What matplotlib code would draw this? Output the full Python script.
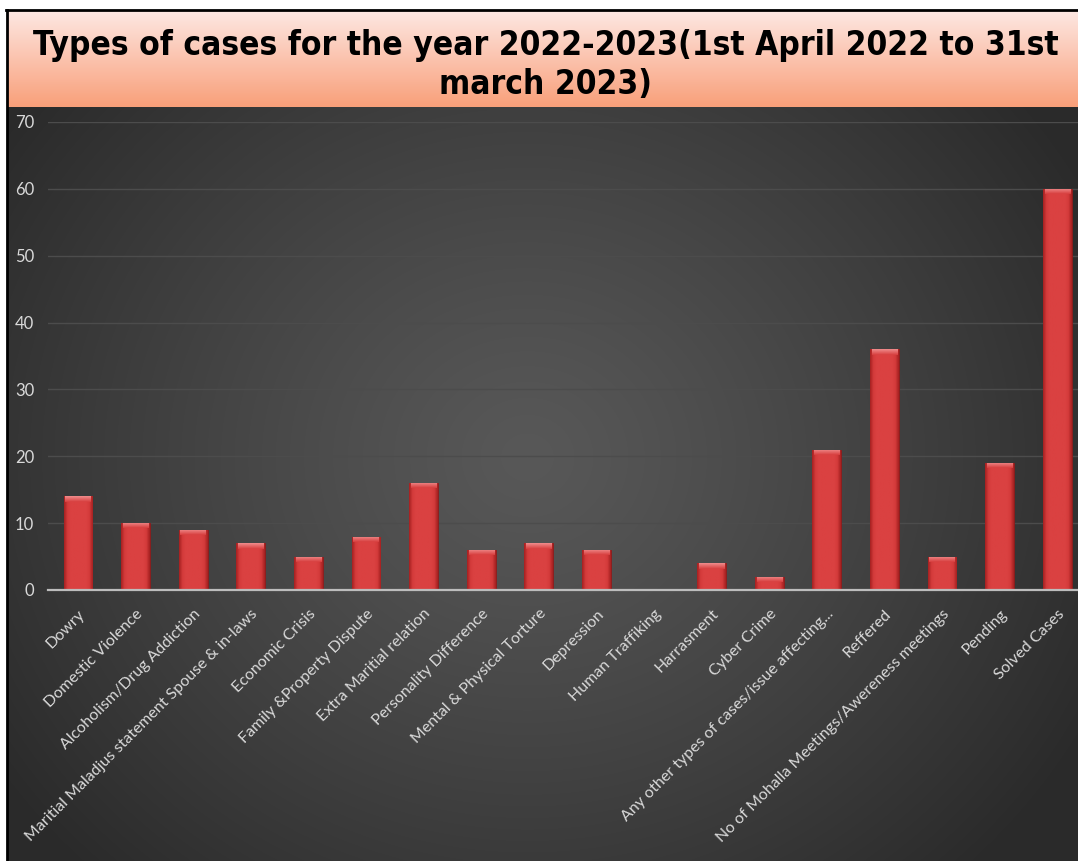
import matplotlib
matplotlib.use("Agg")
import matplotlib.pyplot as plt
import numpy as np
from matplotlib.colors import LinearSegmentedColormap
from matplotlib.lines import Line2D

categories = [
    "Dowry", "Domestic Violence", "Alcoholism/Drug Addiction",
    "Maritial Maladjus statement Spouse & in-laws", "Economic Crisis",
    "Family &Property Dispute", "Extra Maritial relation",
    "Personality Difference", "Mental & Physical Torture", "Depression",
    "Human Traffiking", "Harrasment", "Cyber Crime",
    "Any other types of cases/issue affecting...", "Reffered",
    "No of Mohalla Meetings/Awereness meetings", "Pending", "Solved Cases",
]
cases = [14, 10, 9, 7, 5, 8, 16, 6, 7, 6, 0, 4, 2, 21, 36, 5, 19, 60]
y_ticks = [0, 10, 20, 30, 40, 50, 60, 70]

title = "Types of cases for the year 2022-2023(1st April 2022 to 31st\nmarch 2023)"

W, H = 1078, 861
fig = plt.figure(figsize=(W / 100, H / 100), dpi=100)
fig.patch.set_facecolor("white")

# dark radial background behind the plot
bg = fig.add_axes([7 / W, 0, 1 - 7 / W, (H - 107) / H])
bg.set_axis_off()
yy, xx = np.mgrid[0:754, 0:1071]
r = np.sqrt(((xx - 520) / 640.0) ** 2 + ((yy - 350) / 580.0) ** 2)
r = np.clip(r, 0, 1)
shade = 0x58 - (0x58 - 0x2a) * r ** 1.2
bg.imshow(np.dstack([shade, shade, shade]) / 255.0, aspect="auto",
          extent=(0, 1, 0, 1), origin="upper")
bg.set_xlim(0, 1)
bg.set_ylim(0, 1)

# peach title banner
ban = fig.add_axes([7 / W, (H - 107) / H, 1 - 7 / W, 97 / H])
ban.set_axis_off()
peach = LinearSegmentedColormap.from_list("peach", ["#fde8e3", "#fbc3ae", "#f9a07a"])
ban.imshow(np.linspace(0, 1, 100).reshape(-1, 1), cmap=peach, aspect="auto",
           extent=(0, 1, 0, 1), origin="upper")
ban.set_xlim(0, 1)
ban.set_ylim(0, 1)
fig.text(546 / W, 1 - 65 / H, title, ha="center", va="center", fontsize=24,
         fontweight="bold", family="DejaVu Sans", color="black",
         linespacing=1.25, fontstretch="condensed")

# black frame lines on top and left
fig.add_artist(Line2D([6 / W, 1], [1 - 10 / H, 1 - 10 / H], color="black", lw=2))
fig.add_artist(Line2D([7 / W, 7 / W], [0, 1 - 10 / H], color="black", lw=2))

ax = fig.add_axes([48 / W, (H - 590) / H, 1 - 48 / W, (590 - 122) / H])
ax.patch.set_alpha(0)
x = np.arange(len(categories))
bars = ax.bar(x, cases, width=0.5, color="#d03636", zorder=3,
              edgecolor="#8a1a1a", linewidth=0.6)

# horizontal shading inside each bar plus a light bevel on top
profile = np.concatenate([np.linspace(0.0, 1.0, 10), np.ones(20), np.linspace(1.0, 0.0, 10)])
bar_cmap = LinearSegmentedColormap.from_list("bar", ["#a82222", "#d43b3b", "#da4141"])
for b in bars:
    h = b.get_height()
    if h <= 0:
        continue
    x0 = b.get_x()
    w = b.get_width()
    im = ax.imshow(profile.reshape(1, -1), cmap=bar_cmap, aspect="auto",
                   extent=(x0, x0 + w, 0, h), zorder=4, vmin=0, vmax=1)
    im.set_clip_path(b)
    bev = min(0.8, h * 0.5)
    top = ax.imshow(np.linspace(1, 0, 10).reshape(-1, 1), cmap=LinearSegmentedColormap.from_list(
        "bev", ["#d84040", "#ef8a8a"]), aspect="auto",
        extent=(x0 + w * 0.06, x0 + w * 0.94, h - bev, h), zorder=5, origin="upper")
    top.set_clip_path(b)

ax.set_xlim(-0.52, 17.36)
ax.set_ylim(0, 70)
ax.set_yticks(y_ticks)
ax.set_yticklabels([str(t) for t in y_ticks])
ax.set_xticks(x)
ax.set_xticklabels(categories, rotation=45, ha="right", rotation_mode="anchor")
ax.tick_params(axis="both", length=0, colors="#d9d9d9")
ax.tick_params(axis="x", pad=12, labelsize=11.5)
ax.tick_params(axis="y", pad=10, labelsize=12)
for lab in ax.get_xticklabels() + ax.get_yticklabels():
    lab.set_family(["Lato", "DejaVu Sans"])
ax.yaxis.grid(True, color="#4c4c4c", lw=1, zorder=0)
ax.set_axisbelow(True)
for s in ["top", "right", "left"]:
    ax.spines[s].set_visible(False)
ax.spines["bottom"].set_color("#bdbdbd")
ax.spines["bottom"].set_linewidth(1.6)
ax.spines["bottom"].set_zorder(6)

fig.savefig("out.png", dpi=100)
